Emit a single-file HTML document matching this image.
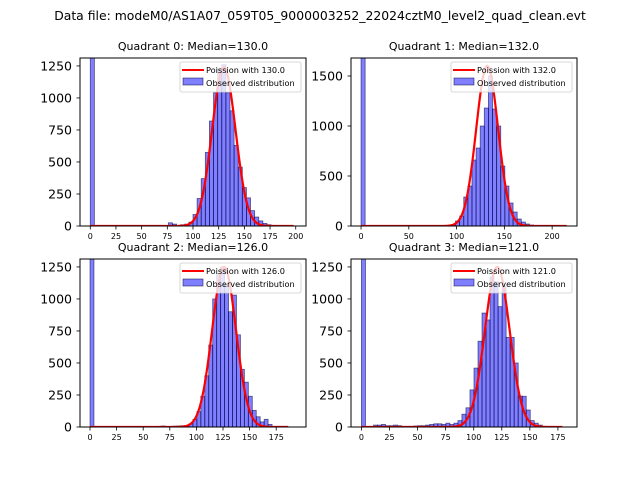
<!DOCTYPE html>
<html><head><meta charset="utf-8"><style>
body{margin:0;background:#fff;}
svg{display:block;font-family:"DejaVu Sans","Liberation Sans",sans-serif;}
</style></head><body>
<svg id="fig" width="640" height="480" viewBox="0 0 640 480">
<rect width="640" height="480" fill="#fff"/>
<text x="320" y="20" text-anchor="middle" font-size="12.4">Data file: modeM0/AS1A07_059T05_9000003252_22024cztM0_level2_quad_clean.evt</text>
</svg>
<script>
// Histogram data (bin counts, first bin at 0 is clipped beyond the axis top)
const q0Counts=[3000,0,0,0,0,0,0,0,0,0,0,0,0,0,0,0,0,0,0,25,15,0,10,15,30,90,215,370,575,820,1040,1230,1260,1040,900,630,460,300,220,120,70,40,20,10,5,0,0,0,0,0];
const q1Counts=[3000,0,0,0,0,0,0,0,0,0,0,0,0,0,0,0,5,5,5,5,5,5,15,50,100,290,400,660,780,1000,1180,1500,1170,1000,600,400,230,140,70,40,20,10,5,5,5,5,5,5,5,5];
const q2Counts=[3000,0,0,0,0,0,0,0,0,0,0,0,0,0,0,0,0,5,8,0,0,7,8,10,10,25,60,120,240,400,640,1000,1200,1250,1100,900,1030,720,450,350,240,130,80,40,60,20,0,5,5,5];
const q3Counts=[3000,0,0,15,15,20,10,10,15,10,5,5,5,8,10,10,15,20,25,25,20,30,20,30,50,100,150,290,460,670,890,836,1174,1135,940,1100,700,700,500,242,240,133,50,30,15,5,5,5,0,0];
const binWidths=[4,4.3,3.72,3.58];
const medians=[130,132,126,121];
const peaks=[1240,1600,1250,1250];
const curveEnd=[198,215,186,179];
const xTicks0=[0,25,50,75,100,125,150,175,200];
const xTicks1=[0,50,100,150,200];
const xTicks2=[0,25,50,75,100,125,150,175];
const xTicks3=[0,25,50,75,100,125,150,175];
const yTicks0=[0,250,500,750,1000,1250];
const yTicks1=[0,500,1000,1500];
const yTicks2=[0,250,500,750,1000,1250];
const yTicks3=[0,250,500,750,1000,1250];

const NS="http://www.w3.org/2000/svg";
const svg=document.getElementById('fig');
function mk(tag,attrs,parent){const e=document.createElementNS(NS,tag);for(const k in attrs)e.setAttribute(k,attrs[k]);(parent||svg).appendChild(e);return e;}

const panels=[
 {L:80,T:58,R:306,B:226,xmin:-10,xmax:210,ymax:1312,counts:q0Counts,xt:xTicks0,yt:yTicks0},
 {L:351,T:58,R:577,B:226,xmin:-10.5,xmax:226,ymax:1680,counts:q1Counts,xt:xTicks1,yt:yTicks1},
 {L:80,T:259,R:306,B:427,xmin:-9.4,xmax:203,ymax:1312,counts:q2Counts,xt:xTicks2,yt:yTicks2},
 {L:351,T:259,R:577,B:427,xmin:-9.3,xmax:192,ymax:1312,counts:q3Counts,xt:xTicks3,yt:yTicks3}
];

panels.forEach((p,q)=>{
 const g=mk('g',{});
 
 
 const xs=v=>p.L+(v-p.xmin)/(p.xmax-p.xmin)*(p.R-p.L);
 const ys=v=>p.B-v/p.ymax*(p.B-p.T);
 const cid='clip'+q;
 const cp=mk('clipPath',{id:cid},g);mk('rect',{x:p.L,y:p.T,width:p.R-p.L,height:p.B-p.T},cp);
 const t=mk('text',{x:(p.L+p.R)/2,y:p.T-8,'text-anchor':'middle','font-size':'11'},g);
 t.textContent='Quadrant '+q+': Median='+medians[q].toFixed(1);
 
 
 const bw=binWidths[q];
 const bars=mk('g',{'clip-path':'url(#'+cid+')'},g);
 
 
 p.counts.forEach((c,i)=>{
  if(c<=0)return;
  const x0=xs(i*bw),x1=xs((i+1)*bw);
  const r=mk('rect',{x:x0,y:ys(c),width:x1-x0,height:ys(0)-ys(c),fill:'rgba(0,0,255,0.5)',stroke:'rgba(0,0,60,0.6)','stroke-width':'0.8'},bars);
  
  
 });
 // Poisson model curve (gaussian approx)
 let d='';
 const mu=medians[q],sg=Math.sqrt(mu);
 for(let v=0;v<=curveEnd[q];v+=0.5){const y=peaks[q]*Math.exp(-0.5*((v-mu)/sg)**2);d+=(d?'L':'M')+xs(v).toFixed(2)+','+ys(y).toFixed(2);}
 const cl=mk('path',{d:d,fill:'none',stroke:'#ff0000','stroke-width':'2.2','clip-path':'url(#'+cid+')'},g);
 
 
 mk('rect',{x:p.L,y:p.T,width:p.R-p.L,height:p.B-p.T,fill:'none',stroke:'#000','stroke-width':'1'},g);
 p.xt.forEach(v=>{
  mk('line',{x1:xs(v),x2:xs(v),y1:p.B,y2:p.B+3.5,stroke:'#000','stroke-width':'0.8'},g);
  const tx=mk('text',{x:xs(v),y:p.B+13,'text-anchor':'middle','font-size':'8'},g);
  tx.textContent=v;
  
  
 });
 p.yt.forEach(v=>{
  mk('line',{x1:p.L-3.5,x2:p.L,y1:ys(v),y2:ys(v),stroke:'#000','stroke-width':'0.8'},g);
  const ty=mk('text',{x:p.L-8,y:ys(v)+4.5,'text-anchor':'end','font-size':'12.5'},g);
  ty.textContent=v;
  
  
 });
 // legend
 const lg=mk('g',{},g);
 
 
 const lx=p.R-126,ly=p.T+4;
 mk('rect',{x:lx,y:ly,width:121,height:30,rx:2,fill:'rgba(255,255,255,0.8)',stroke:'#ccc','stroke-width':'0.8'},lg);
 mk('line',{x1:lx+2,x2:lx+24,y1:ly+8,y2:ly+8,stroke:'#ff0000','stroke-width':'2'},lg);
 const l1=mk('text',{x:lx+26,y:ly+11,'font-size':'8.2'},lg);l1.textContent='Poission with '+mu.toFixed(1);
 
 
 mk('rect',{x:lx+3,y:ly+16,width:20,height:7,fill:'rgba(0,0,255,0.5)',stroke:'rgba(0,0,60,0.6)','stroke-width':'0.8'},lg);
 const l2=mk('text',{x:lx+26,y:ly+24,'font-size':'8.2'},lg);l2.textContent='Observed distribution';
 
 
});
</script>
</body></html>
